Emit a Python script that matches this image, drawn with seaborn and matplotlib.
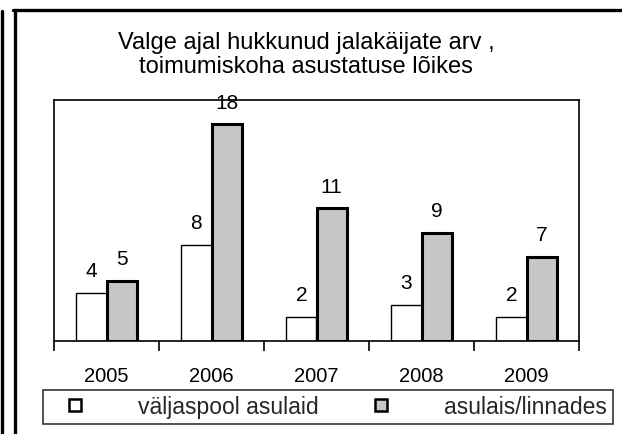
import pandas as pd
import matplotlib.pyplot as plt
import seaborn as sns
from matplotlib.lines import Line2D

sns.set_theme(style="white")
plt.rcParams["font.family"] = ["Liberation Sans", "DejaVu Sans"]

# andmed
years = ["2005", "2006", "2007", "2008", "2009"]
outside = [4, 8, 2, 3, 2]
inside = [5, 18, 11, 9, 7]
series = ["väljaspool asulaid", "asulais/linnades"]
colors = {"väljaspool asulaid": "white", "asulais/linnades": "#c6c6c6"}

df = pd.DataFrame({
    "year": years * 2,
    "count": outside + inside,
    "koht": [series[0]] * len(years) + [series[1]] * len(years),
})

fig = plt.figure(figsize=(6.22, 4.35), dpi=100)
ax = fig.add_axes([54 / 622, 1 - 342 / 435, 525 / 622, 241 / 435])

sns.barplot(data=df, x="year", y="count", hue="koht", palette=colors,
            width=0.58, gap=0, edgecolor="black", ax=ax, legend=False)

# ääred: hall tulp paksema joonega
for cont, lw in zip(ax.containers, [1.0, 2.2]):
    for bar in cont:
        bar.set_linewidth(lw)
        bar.set_edgecolor("black")
    ax.bar_label(cont, fmt="%d", padding=9, fontsize=15, color="black")

ax.set_ylim(0, 20)
ax.set_xlim(-0.5, 4.5)
ax.set_xlabel("")
ax.set_ylabel("")
ax.set_yticks([])
for sp in ax.spines.values():
    sp.set_visible(True)
    sp.set_color("black")
    sp.set_linewidth(1.2)

ax.set_xticks(range(len(years)))
ax.set_xticklabels(years, fontsize=14.5, color="black")
ax.set_xticks([i - 0.5 for i in range(len(years) + 1)], minor=True)
ax.tick_params(axis="x", which="major", length=0, pad=18)
ax.tick_params(axis="x", which="minor", length=7, width=1.2, color="black",
               direction="out", bottom=True)

ax.text(0.48, 1.0 + 46 / 241, "Valge ajal hukkunud jalakäijate arv ,\ntoimumiskoha asustatuse lõikes",
        transform=ax.transAxes, ha="center", va="center", fontsize=17,
        linespacing=1.12, color="black")

# legend
handles = [
    Line2D([], [], marker="s", linestyle="none", markersize=8,
           markerfacecolor=colors[s], markeredgecolor="black", markeredgewidth=1.8)
    for s in series
]
fig.legend(handles, series, ncol=2, mode="expand", fontsize=16.5,
           bbox_to_anchor=(43 / 622, 1 - 426 / 435, 570 / 622, 36 / 435),
           loc="center", frameon=True, fancybox=False, edgecolor="black",
           handlelength=2.3, handletextpad=1.6, borderaxespad=0, borderpad=0.25)
fig.legends[0].get_frame().set_linewidth(1.2)

# raam
fig.add_artist(Line2D([13 / 622, 1], [1 - 11 / 435] * 2, transform=fig.transFigure,
                      color="black", linewidth=2.4))
fig.add_artist(Line2D([15 / 622] * 2, [0, 1 - 11 / 435], transform=fig.transFigure,
                      color="black", linewidth=2.4))
fig.add_artist(Line2D([1.5 / 622] * 2, [0, 1 - 12 / 435], transform=fig.transFigure,
                      color="black", linewidth=2.4))

fig.savefig("out.png", dpi=100)
